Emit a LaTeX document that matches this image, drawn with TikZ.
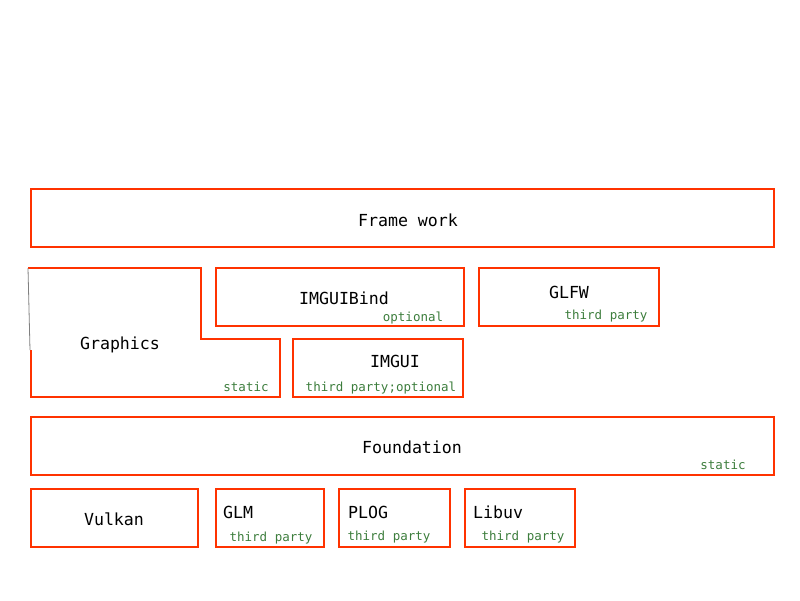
\documentclass[tikz,border=0pt]{standalone}
\usepackage{fontspec}
\newfontfamily\monofont{DejaVu Sans Mono}
\definecolor{boxred}{RGB}{255,51,0}
\definecolor{taggreen}{RGB}{60,125,60}
\tikzstyle{layerbox} = [draw=boxred, line width=1.8pt, shape=rectangle, font={\monofont\fontsize{16.6}{18}\selectfont}, text=black, align=center, inner sep=0pt]
\tikzstyle{mainlabel} = [font={\monofont\fontsize{16.6}{18}\selectfont}, text=black, inner sep=0pt]
\tikzstyle{taglabel} = [font={\monofont\fontsize{12.5}{14}\selectfont}, text=taggreen, inner sep=0pt]

\begin{document}
\begin{tikzpicture}[x=1pt,y=-1pt]
\useasboundingbox (0,0) rectangle (800,600);

\node[layerbox, minimum width=743, minimum height=58] (framework) at (402.5,218) {};
\node[mainlabel] (frameworklabel) at (408,220) {Frame work};

% graphics block is not a rectangle
\draw[boxred, line width=1.8pt, line join=miter] (31,350) -- (31,397) -- (280,397) -- (280,339) -- (201,339) -- (201,268) -- (28,268);
\draw[gray, line width=0.8pt] (28,268) -- (30,350);
\node[mainlabel] (graphics) at (120,345) {Graphics};
\node[taglabel] (graphicstag) at (246,387) {static};

\node[layerbox, minimum width=248, minimum height=58] (imguibind) at (340,297) {};
\node[mainlabel] (imguibindlabel) at (344,298) {IMGUIBind};
\node[taglabel] (imguibindtag) at (413,318) {optional};

\node[layerbox, minimum width=180, minimum height=58] (glfw) at (569,297) {};
\node[mainlabel] (glfwlabel) at (569,292) {GLFW};
\node[taglabel] (glfwtag) at (606,316) {third party};

\node[layerbox, minimum width=170, minimum height=58] (imgui) at (378,368) {};
\node[mainlabel] (imguilabel) at (395,361) {IMGUI};
\node[taglabel] (imguitag) at (381,388) {third party;optional};

\node[layerbox, minimum width=743, minimum height=58] (foundation) at (402.5,446) {};
\node[mainlabel] (foundationlabel) at (412,447) {Foundation};
\node[taglabel] (foundationtag) at (723,465) {static};

\node[layerbox, minimum width=167, minimum height=58] (vulkan) at (114.5,518) {};
\node[mainlabel] (vulkanlabel) at (114,519) {Vulkan};

\node[layerbox, minimum width=108, minimum height=58] (glm) at (270,518) {};
\node[mainlabel, anchor=west] (glmlabel) at (223,512) {GLM};
\node[taglabel] (glmtag) at (271,538) {third party};

\node[layerbox, minimum width=111, minimum height=58] (plog) at (394.5,518) {};
\node[mainlabel, anchor=west] (ploglabel) at (348,512) {PLOG};
\node[taglabel] (plogtag) at (389,537) {third party};

\node[layerbox, minimum width=110, minimum height=58] (libuv) at (520,518) {};
\node[mainlabel, anchor=west] (libuvlabel) at (473,512) {Libuv};
\node[taglabel] (libuvtag) at (523,537) {third party};
\end{tikzpicture}
\end{document}
